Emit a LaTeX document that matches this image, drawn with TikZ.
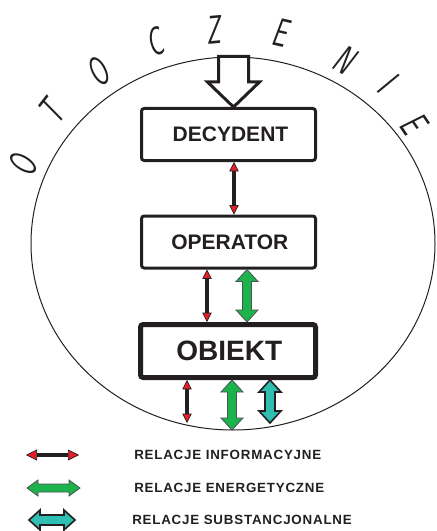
\documentclass[tikz,border=0pt]{standalone}
\usepackage{fontspec}
\usepackage{graphicx}
\setmainfont{Liberation Sans}
\newfontfamily\legendfont[LetterSpace=6]{Liberation Sans}
\usetikzlibrary{arrows.meta,calc,shapes.geometric}

\definecolor{ink}{RGB}{35,31,32}
\definecolor{infored}{RGB}{230,30,40}
\definecolor{energygreen}{RGB}{28,178,76}
\definecolor{substteal}{RGB}{46,190,178}
\definecolor{greenedge}{RGB}{80,80,80}

% vertical double block arrow: style, upper end, lower end, half head width, half shaft width, head length
\newcommand\fatv[6]{%
  \path[#1] let \p1=#2, \p2=#3 in
    (\x1,\y1) -- (\x1+#4,\y1-#6) -- (\x1+#5,\y1-#6) -- (\x1+#5,\y2+#6) -- (\x1+#4,\y2+#6)
    -- (\x1,\y2) -- (\x1-#4,\y2+#6) -- (\x1-#5,\y2+#6) -- (\x1-#5,\y1-#6) -- (\x1-#4,\y1-#6) -- cycle;}
% horizontal double block arrow: style, left end, right end, half head width, half shaft width, head length
\newcommand\fath[6]{%
  \path[#1] let \p1=#2, \p2=#3 in
    (\x1,\y1) -- (\x1+#6,\y1+#4) -- (\x1+#6,\y1+#5) -- (\x2-#6,\y1+#5) -- (\x2-#6,\y1+#4)
    -- (\x2,\y1) -- (\x2-#6,\y1-#4) -- (\x2-#6,\y1-#5) -- (\x1+#6,\y1-#5) -- (\x1+#6,\y1-#4) -- cycle;}
% hollow single arrow pointing down: upper end, tip
\newcommand\hollowdown[2]{%
  \path[hollow] let \p1=#1, \p2=#2 in
    (\x1-11.25pt,\y1) -- (\x1+11.25pt,\y1) -- (\x1+11.25pt,\y2+18.75pt) -- (\x1+19.5pt,\y2+18.75pt)
    -- (\x1,\y2) -- (\x1-19.5pt,\y2+18.75pt) -- (\x1-11.25pt,\y2+18.75pt) -- cycle;}
\newcommand\arcletter[3]{%
  \node[arcchar, rotate=#3] at (#1) {\scalebox{0.62}[1]{#2}};}

\begin{document}
\begin{tikzpicture}[x=0.75pt,y=-0.75pt,
  box/.style={draw=ink, line width=2.25pt, rounded corners=2pt, fill=white,
    minimum width=130.5pt, minimum height=39pt, inner sep=0pt, text=ink,
    font=\bfseries\fontsize{15.75}{15.75}\selectfont},
  bigbox/.style={box, line width=3.75pt, minimum width=131.25pt, minimum height=39.75pt,
    font=\bfseries\fontsize{21}{21}\selectfont},
  redtip/.tip={Triangle[length=7pt,width=7pt,fill=infored,line width=0.5pt]},
  info/.style={draw=ink, line width=2.6pt, redtip-redtip},
  infolegend/.style={draw=ink, line width=3pt,
    {Triangle[length=8.25pt,width=8.25pt,fill=infored,line width=0.5pt]}-{Triangle[length=8.25pt,width=8.25pt,fill=infored,line width=0.5pt]}},
  energy/.style={draw=greenedge, fill=energygreen, line width=0.6pt, line join=miter},
  subst/.style={draw=ink, fill=substteal, line width=1.2pt, line join=miter},
  hollow/.style={draw=ink, fill=white, line width=2.25pt, line join=miter},
  legendtext/.style={anchor=west, inner sep=0pt, text=ink,
    font=\legendfont\bfseries\fontsize{10}{10}\selectfont},
  arcchar/.style={inner sep=0pt, text=ink, font=\sffamily\itshape\fontsize{30}{30}\selectfont}]
\useasboundingbox (0,0) rectangle (436,531);

% surroundings
\node[draw=ink, line width=0.75pt, ellipse, minimum width=303pt, minimum height=279.75pt,
  inner sep=0pt] (env) at (233,243.5) {};

\arcletter{23,165}{O}{68}
\arcletter{52,112}{T}{52}
\arcletter{98,72}{O}{37}
\arcletter{155,42}{C}{20}
\arcletter{213,30}{Z}{5}
\arcletter{280,33}{E}{-13}
\arcletter{345,60}{N}{-30}
\arcletter{387,83}{I}{-43}
\arcletter{414,124}{E}{-56}

% blocks
\node[box] (dec) at (228.5,134.5) {\hspace*{3pt}DECYDENT};
\node[box] (op) at (228.5,242) {\hspace*{2pt}OPERATOR};
\node[bigbox] (obj) at (228,351) {\hspace*{2pt}OBIEKT};

% columns of the connectors
\coordinate (hx) at (233.5,0);
\coordinate (colA) at (234,0);
\coordinate (colB) at (207,0);
\coordinate (colC) at (247,0);
\coordinate (colD) at (187,0);
\coordinate (colE) at (232,0);
\coordinate (colF) at (270,0);
\coordinate (endD) at (187,423);
\coordinate (endE) at (232,430);
\coordinate (endF) at (270,423);

% input from the surroundings
\hollowdown{(env.north -| hx)}{(dec.north -| hx)}

% relations
\draw[info] (dec.south -| colA) -- (op.north -| colA);
\draw[info] (op.south -| colB) -- (obj.north -| colB);
\fatv{energy}{(op.south -| colC)}{(obj.north -| colC)}{8.25pt}{3.4pt}{9pt}
\draw[info] (obj.south -| colD) -- (endD);
\fatv{energy}{(obj.south -| colE)}{(endE)}{8.25pt}{3.4pt}{9pt}
\fatv{subst}{(obj.south -| colF)}{(endF)}{8.25pt}{3.75pt}{9pt}

% legend
\coordinate (li1) at (26,455);
\coordinate (li2) at (79,455);
\coordinate (le1) at (27,488);
\coordinate (le2) at (80,488);
\coordinate (ls1) at (29,520);
\coordinate (ls2) at (75,520);
\draw[infolegend] (li1) -- (li2);
\fath{energy}{(le1)}{(le2)}{6pt}{3pt}{8.25pt}
\fath{subst}{(ls1)}{(ls2)}{7.5pt}{3.75pt}{8.25pt}
\node[legendtext] (t1) at (134,455) {RELACJE INFORMACYJNE};
\node[legendtext] (t2) at (134,488) {RELACJE ENERGETYCZNE};
\node[legendtext] (t3) at (132,520) {RELACJE SUBSTANCJONALNE};
\end{tikzpicture}
\end{document}
